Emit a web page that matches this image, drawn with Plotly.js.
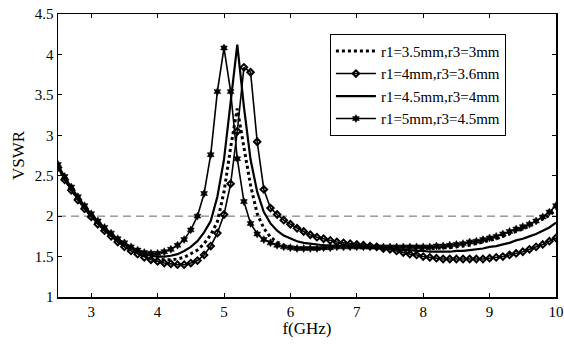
<!DOCTYPE html>
<html>
<head>
<meta charset="utf-8">
<script src="https://cdn.plot.ly/plotly-3.0.1.min.js"></script>
<style>html,body{margin:0;padding:0;background:#fff;}#chart{width:564px;height:344px;}</style>
</head>
<body>
<div id="chart"></div>
<script>
const freq = [2.5,2.6,2.7,2.8,2.9,3.0,3.1,3.2,3.3,3.4,3.5,3.6,3.7,3.8,3.9,4.0,4.1,4.2,4.3,4.4,4.5,4.6,4.7,4.8,4.9,5.0,5.1,5.2,5.3,5.4,5.5,5.6,5.7,5.8,5.9,6.0,6.1,6.2,6.3,6.4,6.5,6.6,6.7,6.8,6.9,7.0,7.1,7.2,7.3,7.4,7.5,7.6,7.7,7.8,7.9,8.0,8.1,8.2,8.3,8.4,8.5,8.6,8.7,8.8,8.9,9.0,9.1,9.2,9.3,9.4,9.5,9.6,9.7,9.8,9.9,10.0];

const seriesNames = ["r1=3.5mm,r3=3mm","r1=4mm,r3=3.6mm","r1=4.5mm,r3=4mm","r1=5mm,r3=4.5mm"];

const vswr1 = [2.61,2.46,2.33,2.21,2.10,2.00,1.91,1.83,1.76,1.69,1.64,1.59,1.55,1.52,1.49,1.47,1.46,1.46,1.47,1.49,1.53,1.58,1.66,1.77,1.93,2.30,2.85,3.33,2.85,2.38,2.03,1.85,1.74,1.68,1.64,1.62,1.61,1.60,1.60,1.60,1.60,1.60,1.61,1.61,1.61,1.61,1.61,1.61,1.61,1.61,1.61,1.60,1.60,1.60,1.60,1.60,1.60,1.60,1.61,1.61,1.62,1.63,1.64,1.66,1.68,1.70,1.72,1.75,1.78,1.81,1.84,1.88,1.92,1.96,2.01,2.08];

const vswr2 = [2.60,2.45,2.32,2.20,2.09,1.99,1.90,1.82,1.75,1.68,1.62,1.57,1.53,1.49,1.46,1.44,1.42,1.41,1.40,1.40,1.42,1.45,1.52,1.63,1.79,2.02,2.40,3.05,3.84,3.78,2.92,2.33,2.10,2.02,1.95,1.90,1.85,1.81,1.77,1.74,1.72,1.70,1.68,1.67,1.66,1.65,1.64,1.63,1.62,1.60,1.59,1.57,1.55,1.53,1.52,1.50,1.49,1.48,1.47,1.47,1.47,1.47,1.47,1.47,1.47,1.48,1.49,1.50,1.52,1.54,1.56,1.59,1.62,1.65,1.69,1.73];

const vswr3 = [2.62,2.47,2.34,2.22,2.11,2.01,1.92,1.84,1.77,1.70,1.65,1.60,1.56,1.53,1.51,1.50,1.50,1.51,1.53,1.57,1.62,1.69,1.80,1.94,2.24,2.70,3.42,4.12,3.35,2.70,2.30,2.05,1.91,1.82,1.76,1.72,1.69,1.67,1.66,1.65,1.64,1.64,1.63,1.63,1.63,1.62,1.62,1.61,1.61,1.60,1.60,1.59,1.58,1.58,1.57,1.57,1.56,1.56,1.56,1.56,1.57,1.57,1.58,1.59,1.60,1.62,1.63,1.65,1.67,1.70,1.72,1.75,1.78,1.82,1.86,1.92];

const vswr4 = [2.64,2.49,2.36,2.24,2.13,2.03,1.94,1.86,1.79,1.72,1.67,1.62,1.58,1.55,1.54,1.54,1.56,1.59,1.64,1.71,1.83,2.00,2.28,2.76,3.54,4.08,3.54,2.71,2.18,1.91,1.78,1.71,1.67,1.64,1.62,1.61,1.60,1.60,1.60,1.60,1.61,1.61,1.62,1.62,1.62,1.62,1.62,1.62,1.62,1.62,1.62,1.62,1.62,1.62,1.62,1.62,1.62,1.63,1.63,1.64,1.65,1.66,1.68,1.69,1.71,1.73,1.75,1.78,1.81,1.84,1.87,1.90,1.94,1.99,2.05,2.13];

const threshold = 2;
const xTicks = [3,4,5,6,7,8,9,10];
const yTicks = [1,1.5,2,2.5,3,3.5,4,4.5];

const traces = [
  {x: freq, y: vswr1, name: seriesNames[0], mode: 'lines', line: {color: '#000', width: 3, dash: 'dot'}},
  {x: freq, y: vswr2, name: seriesNames[1], mode: 'lines+markers', line: {color: '#000', width: 1.6},
   marker: {symbol: 'diamond-open', size: 5, color: '#000', line: {width: 2, color: '#000'}}},
  {x: freq, y: vswr3, name: seriesNames[2], mode: 'lines', line: {color: '#000', width: 2.2}},
  {x: freq, y: vswr4, name: seriesNames[3], mode: 'lines+markers', line: {color: '#000', width: 1.6},
   marker: {symbol: 'hexagram', size: 6, color: '#000', line: {width: 0.5, color: '#000'}}}
];

const layout = {
  width: 564, height: 344,
  margin: {l: 58, r: 8, t: 14, b: 47},
  paper_bgcolor: '#fff', plot_bgcolor: '#fff',
  font: {family: '"Liberation Serif", "Times New Roman", serif', size: 15, color: '#000'},
  showlegend: true,
  legend: {x: 0.546, y: 0.93, xanchor: 'left', yanchor: 'top', bgcolor: '#fff',
    bordercolor: '#000', borderwidth: 1, font: {size: 15}, itemwidth: 40, tracegroupgap: 0},
  xaxis: {range: [2.5, 10], tickvals: xTicks, ticks: 'inside', ticklen: 4, tickcolor: '#000',
    tickfont: {size: 15},
    showline: true, linecolor: '#000', linewidth: 1.5, mirror: 'ticks', showgrid: false, zeroline: false,
    title: {text: 'f(GHz)', standoff: 3, font: {size: 17}}},
  yaxis: {range: [1, 4.5], tickvals: yTicks, ticks: 'inside', ticklen: 4, tickcolor: '#000',
    tickfont: {size: 15},
    showline: true, linecolor: '#000', linewidth: 1.5, mirror: 'ticks', showgrid: false, zeroline: false,
    title: {text: 'VSWR', standoff: 6, font: {size: 17}}},
  shapes: [{type: 'line', xref: 'x', yref: 'y', x0: 2.5, x1: 10, y0: threshold, y1: threshold,
    line: {color: '#666', width: 1, dash: '8px,5px'}, layer: 'below'}]
};

Plotly.newPlot('chart', traces, layout, {staticPlot: true, displayModeBar: false});
</script>
</body>
</html>
